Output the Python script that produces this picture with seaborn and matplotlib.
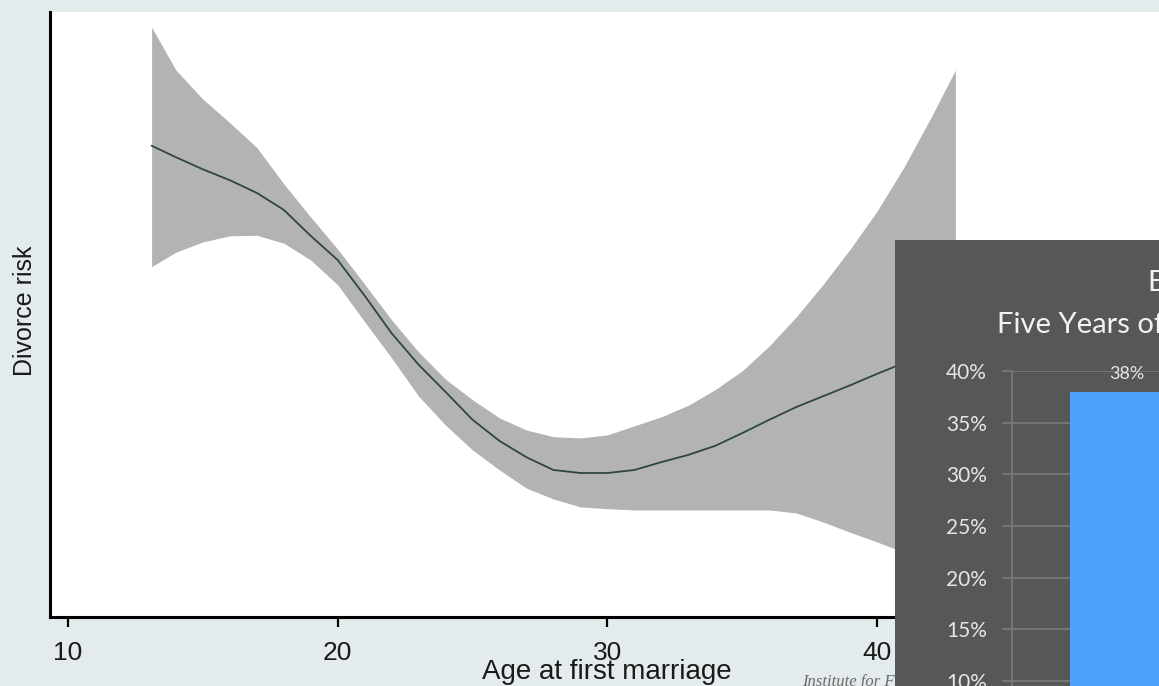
import numpy as np
import matplotlib
matplotlib.use("Agg")
import matplotlib.pyplot as plt
from matplotlib.patches import Rectangle
from matplotlib.ticker import PercentFormatter
import seaborn as sns

# --- main chart: smoothed divorce risk by age at first marriage (no y scale shown)
ages = [13.1, 14, 15, 16, 17, 18, 19, 20, 21, 22, 23, 24, 25, 26, 27, 28, 29,
        30, 31, 32, 33, 34, 35, 36, 37, 38, 39, 40, 41, 42, 42.9]
risk = [77.9, 76.0, 74.0, 72.2, 70.1, 67.3, 63.0, 59.0, 53.1, 46.9, 41.7, 37.2,
        32.6, 29.1, 26.4, 24.3, 23.8, 23.8, 24.3, 25.6, 26.8, 28.3, 30.4, 32.6,
        34.7, 36.5, 38.3, 40.2, 42.0, 43.6, 45.3]
risk_hi = [97.5, 90.4, 85.6, 81.7, 77.6, 71.6, 66.1, 60.8, 55.0, 49.1, 43.8, 39.3,
           35.9, 32.9, 30.9, 29.8, 29.6, 30.1, 31.6, 33.1, 35.0, 37.6, 40.7, 44.8,
           49.6, 55.0, 60.8, 67.1, 74.4, 82.6, 90.4]
risk_lo = [57.9, 60.3, 62.0, 63.0, 63.1, 61.8, 59.0, 54.9, 48.8, 42.8, 36.5, 31.7,
           27.6, 24.3, 21.3, 19.5, 18.2, 17.9, 17.7, 17.7, 17.7, 17.7, 17.7, 17.7,
           17.2, 15.7, 14.0, 12.4, 10.7, 9.1, 7.4]
age_ticks = [10, 20, 30, 40]

# --- inset bar chart (only one bar is visible in the crop)
inset_cats = ["Ever divorced"]
inset_vals = [0.38]
inset_ticks = [0.10, 0.15, 0.20, 0.25, 0.30, 0.35, 0.40]

sns.set_style("white")
plt.rcParams["font.family"] = ["Liberation Sans", "DejaVu Sans"]
plt.rcParams["text.color"] = "#1a1a1a"
plt.rcParams["xtick.color"] = "#1a1a1a"

W, H = 1159, 686
fig = plt.figure(figsize=(W / 100, H / 100), dpi=100)
fig.patch.set_facecolor("#e3ebed")

# main axes, placed in pixel terms of the reference
ax = fig.add_axes([50 / W, (H - 617) / H, (W - 50) / W, (617 - 12) / H])
ax.set_facecolor("white")
ax.fill_between(ages, risk_lo, risk_hi, color="#b3b3b3", linewidth=0)
sns.lineplot(x=ages, y=risk, ax=ax, color="#2f4545", linewidth=1.3)
ax.set_xlim(9.333, 50.45)
ax.set_ylim(0, 100)
ax.set_xticks(age_ticks)
ax.set_yticks([])
ax.tick_params(axis="x", direction="out", length=7, width=1.6, color="black",
               labelcolor="#1a1a1a", labelsize=19, pad=10, bottom=True)
for side in ["top", "right"]:
    ax.spines[side].set_visible(False)
for side in ["left", "bottom"]:
    ax.spines[side].set_color("black")
    ax.spines[side].set_linewidth(2.2)

ax.set_xlabel("Age at first marriage", fontsize=20, color="#1a1a1a")
ax.xaxis.set_label_coords(0.5023, -0.0909)
ax.xaxis.label.set_va("center")
ax.set_ylabel("Divorce risk", fontsize=18, color="#1a1a1a")
ax.yaxis.set_label_coords(-0.0225, 0.506)
ax.yaxis.label.set_va("center")
ax.yaxis.label.set_ha("center")

fig.text(802 / W, 1 - 682 / H, "Institute for Family Studies", fontsize=12,
         style="italic", family=["Liberation Serif", "DejaVu Serif"],
         color="#6a6a6a", va="center", ha="left", zorder=4)

# dark inset panel pasted on top
fig.patches.append(Rectangle((895 / W, 0), (W - 895) / W, (H - 240) / H,
                             transform=fig.transFigure, facecolor="#575757",
                             edgecolor="none", zorder=5))
inset_font = ["Lato", "DejaVu Sans"]
fig.text(1148 / W, 1 - 283 / H, "Ever Divorced", fontsize=21, color="#f2f2f2",
         family=inset_font, va="center", ha="left", zorder=7)
fig.text(997 / W, 1 - 325 / H, "Five Years of Marriage", fontsize=21,
         color="#f2f2f2", family=inset_font, va="center", ha="left", zorder=7)

axi = fig.add_axes([1012 / W, (H - 784) / H, (1300 - 1012) / W, (784 - 371) / H],
                   zorder=6)
axi.set_facecolor("#575757")
sns.barplot(x=inset_cats, y=inset_vals, ax=axi, color="#4ea2fb", saturation=1,
            width=0.6, edgecolor="none", linewidth=0)
axi.set_xlim(-0.6, 0.9)
axi.set_ylim(0, 0.40)
axi.set_yticks(inset_ticks)
axi.yaxis.set_major_formatter(PercentFormatter(1.0, decimals=0))
axi.grid(axis="y", color="#7a7a7a", linewidth=1.2)
axi.set_axisbelow(True)
axi.tick_params(axis="y", left=True, length=7, width=1.2, color="#7a7a7a",
                labelcolor="#e6e6e6", labelsize=15, pad=11)
for lab in axi.get_yticklabels():
    lab.set_family(inset_font)
axi.tick_params(axis="x", bottom=False, labelbottom=False)
axi.set_xlabel("")
axi.set_ylabel("")
for side in ["top", "right", "bottom"]:
    axi.spines[side].set_visible(False)
axi.spines["left"].set_color("#7a7a7a")
axi.spines["left"].set_linewidth(1.2)
axi.bar_label(axi.containers[0], labels=["38%"], padding=7, fontsize=13,
              color="#e6e6e6", family=inset_font)

fig.savefig("out.png", dpi=100, facecolor=fig.get_facecolor())
